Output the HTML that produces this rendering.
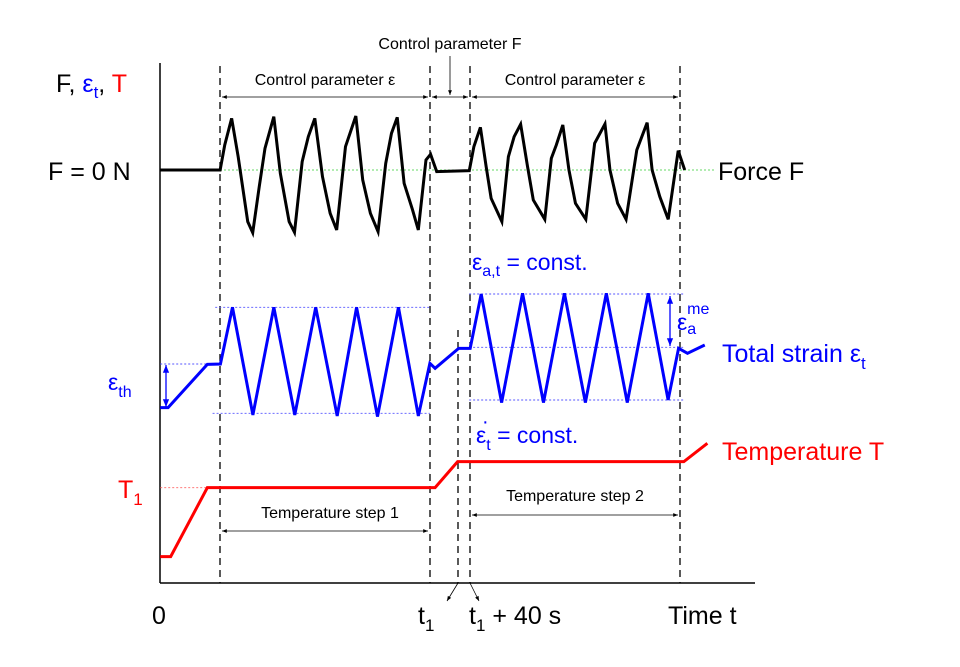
<!DOCTYPE html>
<html><head><meta charset="utf-8"><style>
html,body{margin:0;padding:0;background:#fff;overflow:hidden}
svg{display:block}
text{font-family:"Liberation Sans",sans-serif}
</style></head><body>
<svg width="960" height="667" viewBox="0 0 960 667" xmlns="http://www.w3.org/2000/svg">
<defs>
<marker id="ah" viewBox="0 0 10 10" refX="10" refY="5" markerWidth="8" markerHeight="6" orient="auto-start-reverse"><path d="M0,1 L10,5 L0,9 z" fill="#000"/></marker>
<marker id="ab" viewBox="0 0 10 10" refX="10" refY="5" markerWidth="6" markerHeight="6" orient="auto-start-reverse"><path d="M0,1 L10,5 L0,9 z" fill="#00f"/></marker>
</defs>
<line x1="160" y1="63" x2="160" y2="583" stroke="#000" stroke-width="1.5"/>
<line x1="160" y1="583" x2="755" y2="583" stroke="#000" stroke-width="1.5"/>
<g stroke="#000" stroke-width="1.3" stroke-dasharray="7,5">
<line x1="220" y1="66" x2="220" y2="583"/>
<line x1="430" y1="66" x2="430" y2="583"/>
<line x1="458" y1="330" x2="458" y2="583"/>
<line x1="470" y1="66" x2="470" y2="583"/>
<line x1="680" y1="66" x2="680" y2="583"/>
</g>
<line x1="220" y1="170" x2="715" y2="170" stroke="#3c3" stroke-width="0.8" stroke-dasharray="2,2"/>
<g transform="translate(100,280) scale(0.5236,0.3333)" fill="none">
<g stroke="#55f" stroke-width="0.9" stroke-dasharray="2,2" vector-effect="non-scaling-stroke">
<line vector-effect="non-scaling-stroke" x1="220" y1="82" x2="630" y2="82"/><line vector-effect="non-scaling-stroke" x1="215" y1="400" x2="630" y2="400"/>
<line vector-effect="non-scaling-stroke" x1="115" y1="252" x2="230" y2="252"/>
<line vector-effect="non-scaling-stroke" x1="705" y1="42" x2="1115" y2="42"/><line vector-effect="non-scaling-stroke" x1="705" y1="202" x2="1115" y2="202"/><line vector-effect="non-scaling-stroke" x1="705" y1="360" x2="1115" y2="360"/>
</g>
<line vector-effect="non-scaling-stroke" x1="115" y1="623" x2="205" y2="623" stroke="#f66" stroke-width="0.9" stroke-dasharray="2,2"/>
<polyline vector-effect="non-scaling-stroke" stroke="#00f" stroke-width="3" points="115,383 130,383 205,253 230,252 253,82 292,405 332,82 372,405 412,82 453,408 490,82 530,410 570,82 608,408 630,250 640,265 685,205 707,205 728,42 767,368 807,40 847,368 887,40 927,368 967,40 1007,368 1047,40 1085,360 1105,205 1122,220 1155,195"/>
<polyline vector-effect="non-scaling-stroke" stroke="#f00" stroke-width="3" points="115,830 135,830 205,623 640,623 683,545 1115,545 1160,490"/>
</g>
<g transform="translate(150,30) scale(0.3833,0.3333)" fill="none">
<polyline vector-effect="non-scaling-stroke" stroke="#000" stroke-width="3" points="25,420 183,420 195,345 213,265 230,380 255,575 268,608 285,470 300,355 323,260 340,430 363,575 377,607 397,395 413,320 430,265 450,440 470,550 487,600 510,350 537,258 555,450 575,550 595,605 615,400 630,310 645,262 663,460 685,540 700,600 720,390 732,373 748,425 833,422 845,350 862,292 877,410 890,505 918,575 935,380 950,320 967,283 985,410 1000,510 1030,568 1047,385 1060,345 1077,285 1093,420 1110,520 1137,568 1160,340 1187,282 1200,420 1220,520 1242,568 1270,360 1297,278 1310,420 1330,500 1352,568 1378,362 1395,420"/>
</g>
<g stroke="#000" stroke-width="0.8" fill="none">
<line x1="222" y1="97" x2="428" y2="97" marker-start="url(#ah)" marker-end="url(#ah)"/>
<line x1="432" y1="97" x2="468" y2="97" marker-start="url(#ah)" marker-end="url(#ah)"/>
<line x1="472" y1="97" x2="678" y2="97" marker-start="url(#ah)" marker-end="url(#ah)"/>
<line x1="450" y1="56" x2="450" y2="95" marker-end="url(#ah)"/>
<line x1="222" y1="531" x2="428" y2="531" marker-start="url(#ah)" marker-end="url(#ah)"/>
<line x1="472" y1="515" x2="678" y2="515" marker-start="url(#ah)" marker-end="url(#ah)"/>
<line x1="458" y1="583" x2="447" y2="601" marker-end="url(#ah)"/>
<line x1="470" y1="583" x2="479" y2="601" marker-end="url(#ah)"/>
</g>
<line x1="166" y1="365" x2="166" y2="407" stroke="#00f" stroke-width="1.3" marker-start="url(#ab)" marker-end="url(#ab)"/>
<line x1="670" y1="296" x2="670" y2="346" stroke="#00f" stroke-width="1.3" marker-start="url(#ab)" marker-end="url(#ab)"/>
<g font-size="16" fill="#000">
<text x="450" y="49" text-anchor="middle">Control parameter F</text>
<text x="325" y="85" text-anchor="middle">Control parameter ε</text>
<text x="575" y="85" text-anchor="middle">Control parameter ε</text>
<text x="330" y="518" text-anchor="middle">Temperature step 1</text>
<text x="575" y="501" text-anchor="middle">Temperature step 2</text>
</g>
<text x="56" y="92" font-size="25">F, <tspan fill="#00f">ε<tspan font-size="17" dy="6">t</tspan></tspan><tspan dy="-6">, </tspan><tspan fill="#f00">T</tspan></text>
<text x="48" y="180" font-size="25">F = 0 N</text>
<text x="718" y="180" font-size="25">Force F</text>
<text x="472" y="270" font-size="23" fill="#00f">ε<tspan font-size="16" dy="6">a,t</tspan><tspan dy="-6"> = const.</tspan></text>
<text x="677" y="330" font-size="23" fill="#00f">ε<tspan font-size="16" dy="4">a</tspan><tspan font-size="16" dx="-9" dy="-20">me</tspan></text>
<text x="722" y="362" font-size="25" fill="#00f">Total strain ε<tspan font-size="17" dy="7">t</tspan></text>
<text x="108" y="390" font-size="23" fill="#00f">ε<tspan font-size="16" dy="7">th</tspan></text>
<text x="476" y="443" font-size="23" fill="#00f">ε<tspan font-size="16" dy="7">t</tspan><tspan dy="-7"> = const.</tspan></text>
<text x="482" y="428" font-size="20" fill="#00f">·</text>
<text x="722" y="460" font-size="25" fill="#f00">Temperature T</text>
<text x="118" y="498" font-size="25" fill="#f00">T<tspan font-size="17" dy="7">1</tspan></text>
<text x="152" y="624" font-size="25">0</text>
<text x="418" y="624" font-size="25">t<tspan font-size="17" dy="7">1</tspan></text>
<text x="469" y="624" font-size="25">t<tspan font-size="17" dy="7">1</tspan><tspan dy="-7"> + 40 s</tspan></text>
<text x="668" y="624" font-size="25">Time t</text>
</svg>
</body></html>
